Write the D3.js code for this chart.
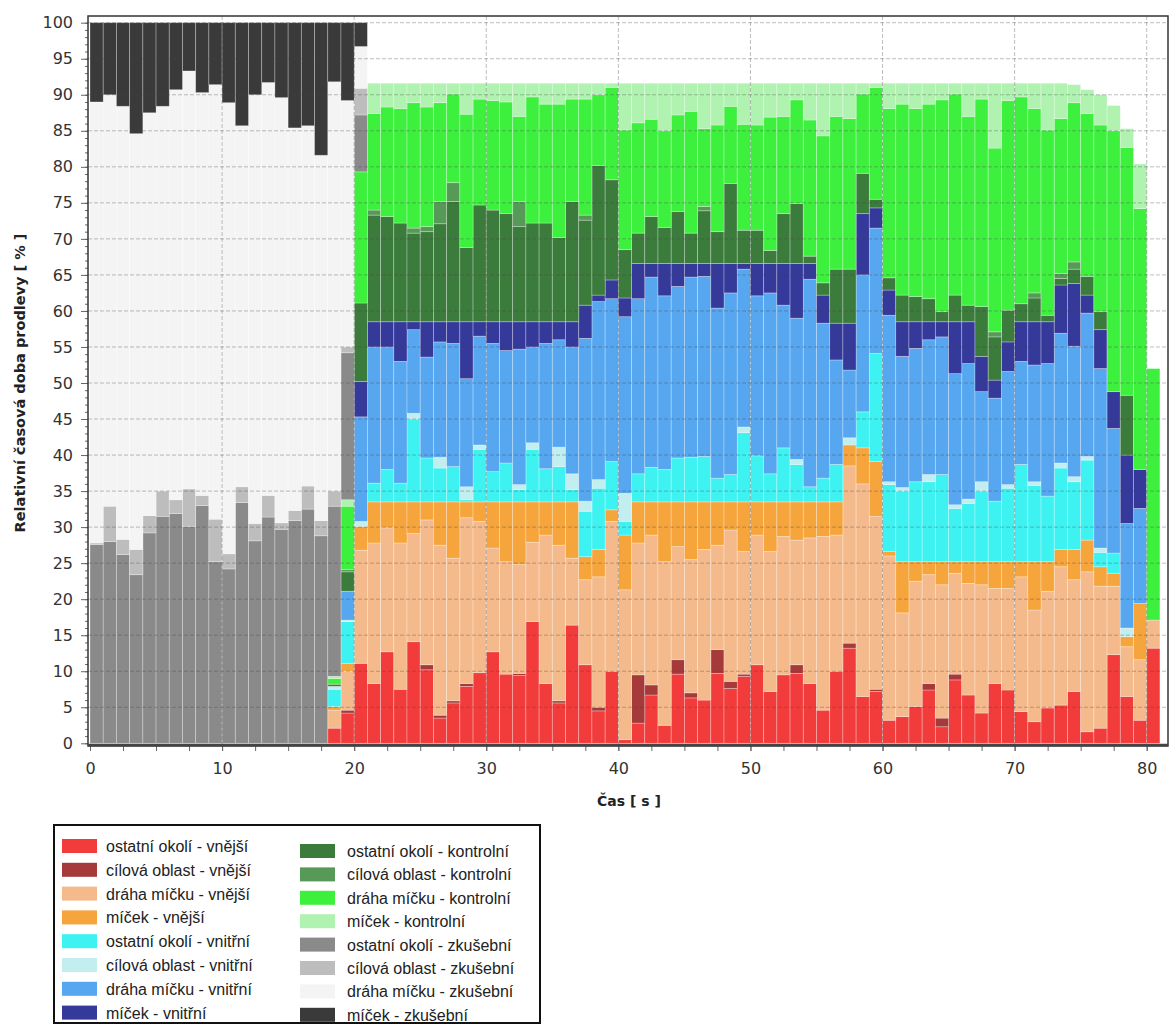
<!DOCTYPE html>
<html>
<head>
<meta charset="utf-8">
<script src="https://cdn.jsdelivr.net/npm/d3@7"></script>
<style>
  html, body { margin: 0; padding: 0; background: #fff; }
  svg { display: block; }
</style>
</head>
<body>
<div id="chart"></div>
<script>
// time bins (start of each 1 s bin)
const timeBins = [0,1,2,3,4,5,6,7,8,9,10,11,12,13,14,15,16,17,18,19,20,21,22,23,24,25,26,27,28,29,
  30,31,32,33,34,35,36,37,38,39,40,41,42,43,44,45,46,47,48,49,50,51,52,53,54,55,56,57,58,59,
  60,61,62,63,64,65,66,67,68,69,70,71,72,73,74,75,76,77,78,79,80];

const xTicks = [0, 10, 20, 30, 40, 50, 60, 70, 80];
const yTicks = [0, 5, 10, 15, 20, 25, 30, 35, 40, 45, 50, 55, 60, 65, 70, 75, 80, 85, 90, 95, 100];

// series values, % of time in each bin (stack order bottom -> top)
const ostatniVnejsi = [0,0,0,0,0,0,0,0,0,0, 0,0,0,0,0,0,0,0,2.1,4.2,
  11.1,8.3,12.7,7.5,14.1,10.2,3.5,5.6,7.9,9.8, 12.7,9.6,9.4,16.9,8.3,5.6,16.4,10.9,4.5,10.0,
  0.5,2.8,6.7,2.5,9.6,6.3,6.0,9.7,7.6,9.3, 10.9,7.2,9.5,9.7,8.3,4.6,10.0,13.2,6.5,7.2,
  3.2,3.7,5.1,7.4,2.3,8.8,6.7,4.2,8.3,7.4, 4.4,3.0,4.9,5.3,7.2,1.6,2.1,12.3,6.5,3.2, 13.2];
const cilovaVnejsi = [0,0,0,0,0,0,0,0,0,0, 0,0,0,0,0,0,0,0,0,0.4,
  0,0,0,0,0,0.7,0.4,0.3,0.4,0, 0,0,0.3,0,0,0.3,0,0,0.5,0,
  0,6.7,1.4,0,2.0,0.7,0,3.3,1.0,0.3, 0,0,0,1.2,0,0,0,0.7,0,0.3,
  0,0,0,0.9,1.2,0.8,0,0,0,0, 0,0,0,0,0,0,0,0,0,0, 0];
const drahaVnejsi = [0,0,0,0,0,0,0,0,0,0, 0,0,0,0,0,0,0,0,2.5,5.4,
  15.7,19.5,17.2,20.3,15.0,20.1,23.6,19.8,23.0,21.0, 14.4,15.6,15.1,11.0,20.6,21.6,9.3,11.8,18.1,20.8,
  20.8,18.3,20.8,22.7,15.7,18.5,20.9,14.5,21.0,17.0, 18.0,19.4,19.2,17.3,20.2,24.1,18.9,24.6,29.5,24.0,
  22.8,14.4,17.4,15.1,18.5,14.0,15.5,17.8,13.2,14.1, 18.7,15.5,16.2,19.2,15.5,22.2,19.7,9.5,6.9,8.4, 3.9];
const micekVnejsi = [0,0,0,0,0,0,0,0,0,0, 0,0,0,0,0,0,0,0,0.5,1.1,
  3.3,5.7,3.6,5.7,4.4,2.5,6.0,7.8,2.2,2.7, 6.4,8.3,8.7,5.6,4.6,6.0,7.8,3.2,3.8,1.6,
  7.6,5.7,4.6,8.3,6.2,8.0,6.6,6.0,3.9,6.9, 4.6,6.9,4.8,5.3,5.0,4.8,4.6,2.9,5.0,7.6,
  0.6,7.1,2.7,1.8,3.2,1.6,3.0,3.2,3.7,3.7, 2.1,6.7,4.1,2.4,4.2,4.4,2.7,1.8,1.4,7.8, 0];
const ostatniVnitrni = [0,0,0,0,0,0,0,0,0,0, 0,0,0,0,0,0,0,0,2.4,5.8,
  0,2.6,4.5,2.6,11.5,6.1,4.7,4.9,0.3,7.3, 4.2,5.4,1.7,7.3,4.6,4.9,1.7,6.3,8.5,6.7,
  1.9,3.9,4.8,4.5,6.1,6.2,6.3,3.3,3.8,9.6, 6.4,3.9,7.5,5.2,2.1,3.3,5.2,0,5.0,15.0,
  9.3,9.8,11.1,11.1,12.1,7.4,8.1,9.8,8.4,10.2, 13.5,10.6,9.1,11.3,9.4,11.1,2.0,2.8,0,0, 0];
const cilovaVnitrni = [0,0,0,0,0,0,0,0,0,0, 0,0,0,0,0,0,0,0,0.4,0.2,
  0.7,0,0,0,0.8,0,1.5,0,1.8,0.6, 0,0,0.7,0.9,0,2.7,2.2,1.4,1.2,0,
  3.9,0,0,0,0,0,0,0,0,0.8, 0,0,0,0.7,0,0,0,1.0,0,0,
  0.4,0.5,0,1.0,0,0.5,0.6,1.3,0,0.5, 0,0.5,0,0.7,0.7,0.5,0.6,0,1.2,0, 0];
const drahaVnitrni = [0,0,0,0,0,0,0,0,0,0, 0,0,0,0,0,0,0,0,0,4.0,
  14.5,18.9,17.0,16.9,11.6,14.0,16.0,17.1,15.0,15.1, 17.8,15.6,18.8,13.3,17.4,14.9,17.6,22.6,24.7,22.6,
  24.5,24.3,26.4,24.1,23.8,25.0,25.0,23.6,25.2,21.9, 22.2,25.1,19.8,19.6,28.8,21.5,14.5,9.4,19.0,17.4,
  23.1,18.2,18.5,18.7,19.1,18.2,18.8,12.5,14.3,15.7, 14.3,16.2,18.4,18.0,18.1,19.9,24.9,17.3,14.5,13.2, 0];
const micekVnitrni = [0,0,0,0,0,0,0,0,0,0, 0,0,0,0,0,0,0,0,0,0,
  4.9,3.5,3.5,5.5,1.1,4.9,2.8,3.0,7.9,2.0, 3.0,4.0,3.8,3.5,3.0,2.5,3.5,4.6,0.9,2.6,
  2.6,4.9,1.9,4.5,3.2,1.9,1.8,6.2,4.1,0.8, 4.5,4.1,5.8,7.6,2.2,3.9,5.1,6.5,8.5,2.8,
  3.5,4.8,3.7,2.5,2.1,7.2,5.8,4.9,2.5,4.1, 5.5,6.0,5.8,6.7,8.7,2.5,5.4,5.1,9.5,5.4, 0];
const ostatniKontrolni = [0,0,0,0,0,0,0,0,0,0, 0,0,0,0,0,0,0,0,0.3,2.7,
  10.9,14.8,14.6,13.7,12.3,12.5,13.6,16.7,10.3,16.2, 15.5,15.0,13.2,13.7,13.7,11.7,16.7,11.8,18.0,13.9,
  6.7,4.2,6.5,5.0,7.2,4.2,7.3,4.4,11.1,4.6, 4.6,1.8,6.9,8.3,1.0,1.7,7.5,7.5,5.6,1.2,
  1.7,3.7,3.5,3.2,1.4,3.7,2.3,6.9,6.0,4.4, 2.5,3.3,0.9,0.9,2.0,2.6,2.5,0,8.3,0, 0];
const cilovaKontrolni = [0,0,0,0,0,0,0,0,0,0, 0,0,0,0,0,0,0,0,0,0.3,
  0,0.7,0,0,0.7,0.7,3.1,2.6,0,0, 0,0,3.5,0,0,0,0,0.7,0,0,
  0,0,0,0,0,0,0.6,0,0,0, 0,0,0,0,0,0,0,0,0,0,
  0,0,0,0,0,0,0,0,0.7,0, 0,0.7,0,0.7,1.0,0,0,0,0,0, 0];
const drahaKontrolni = [0,0,0,0,0,0,0,0,0,0, 0,0,0,0,0,0,0,0,0.8,8.8,
  18.2,13.4,15.2,15.9,17.4,16.6,13.7,12.3,18.5,14.7, 15.2,15.5,11.8,17.5,16.5,18.5,14.2,16.1,9.8,12.8,
  16.6,15.3,13.5,13.4,13.4,16.9,10.8,14.8,10.7,14.7, 14.6,18.5,13.5,14.4,18.9,20.4,21.2,20.9,11.0,15.5,
  23.5,26.5,26.1,27.0,29.4,27.9,26.2,28.8,25.5,29.1, 28.7,25.6,25.7,21.5,22.1,22.6,25.9,36.2,34.4,36.2, 34.9];
const micekKontrolni = [0,0,0,0,0,0,0,0,0,0, 0,0,0,0,0,0,0,0,0.3,0.9,
  0,4.2,3.3,3.5,2.7,3.3,2.7,1.5,4.3,2.2, 2.4,2.6,4.6,1.9,2.9,2.9,2.2,2.2,1.6,0.6,
  6.5,5.5,5.0,6.6,4.4,3.9,6.3,5.8,3.2,5.7, 5.8,4.7,4.6,2.3,5.1,7.3,4.6,4.9,1.5,0.6,
  3.5,2.9,3.5,2.9,2.3,1.5,4.6,2.2,9.0,2.4, 1.9,3.5,6.5,4.9,2.5,3.3,4.2,3.5,2.6,6.2, 0];
const ostatniZkusebni = [27.6,28.0,26.2,23.4,29.2,31.5,31.9,30.1,33.0,25.2,
  24.2,33.4,28.1,31.4,29.7,30.9,32.5,28.8,23.6,20.4,
  7.9,0,0,0,0,0,0,0,0,0, 0,0,0,0,0,0,0,0,0,0, 0,0,0,0,0,0,0,0,0,0,
  0,0,0,0,0,0,0,0,0,0, 0,0,0,0,0,0,0,0,0,0, 0,0,0,0,0,0,0,0,0,0, 0];
const cilovaZkusebni = [0.2,4.9,2.1,3.5,2.4,3.5,1.9,5.2,1.4,5.9,
  2.1,2.2,2.4,3.0,0.9,1.4,3.2,2.1,2.1,0.8,
  3.7,0,0,0,0,0,0,0,0,0, 0,0,0,0,0,0,0,0,0,0, 0,0,0,0,0,0,0,0,0,0,
  0,0,0,0,0,0,0,0,0,0, 0,0,0,0,0,0,0,0,0,0, 0,0,0,0,0,0,0,0,0,0, 0];
const drahaZkusebni = [61.2,57.1,60.1,57.7,55.9,53.4,56.9,58.0,55.9,60.3,
  62.6,50.1,59.5,57.3,59.0,53.1,50.0,50.7,56.8,34.2,
  5.8,0,0,0,0,0,0,0,0,0, 0,0,0,0,0,0,0,0,0,0, 0,0,0,0,0,0,0,0,0,0,
  0,0,0,0,0,0,0,0,0,0, 0,0,0,0,0,0,0,0,0,0, 0,0,0,0,0,0,0,0,0,0, 0];
const micekZkusebni = [11.0,10.0,11.6,15.4,12.5,11.6,9.3,6.7,9.7,8.6,
  11.1,14.3,10.0,8.3,10.4,14.6,14.3,18.4,8.2,10.8,
  3.3,0,0,0,0,0,0,0,0,0, 0,0,0,0,0,0,0,0,0,0, 0,0,0,0,0,0,0,0,0,0,
  0,0,0,0,0,0,0,0,0,0, 0,0,0,0,0,0,0,0,0,0, 0,0,0,0,0,0,0,0,0,0, 0];

const seriesNames = [
  "ostatní okolí - vnější", "cílová oblast - vnější", "dráha míčku - vnější", "míček - vnější",
  "ostatní okolí - vnitřní", "cílová oblast - vnitřní", "dráha míčku - vnitřní", "míček - vnitřní",
  "ostatní okolí - kontrolní", "cílová oblast - kontrolní", "dráha míčku - kontrolní", "míček - kontrolní",
  "ostatní okolí - zkušební", "cílová oblast - zkušební", "dráha míčku - zkušební", "míček - zkušební"
];
const seriesValues = [
  ostatniVnejsi, cilovaVnejsi, drahaVnejsi, micekVnejsi,
  ostatniVnitrni, cilovaVnitrni, drahaVnitrni, micekVnitrni,
  ostatniKontrolni, cilovaKontrolni, drahaKontrolni, micekKontrolni,
  ostatniZkusebni, cilovaZkusebni, drahaZkusebni, micekZkusebni
];
const seriesColors = [
  "#f23b3b", "#a63a3a", "#f4ba8c", "#f6a43c",
  "#3ef2f2", "#c2eef0", "#56a6f0", "#34399a",
  "#3b7b3b", "#579a57", "#3ef03e", "#b0f2b0",
  "#8a8a8a", "#bdbdbd", "#f4f4f4", "#3a3a3a"
];

const width = 1173, height = 1026;
const margin = { top: 16, right: 5, bottom: 280, left: 88 };
const plotRight = width - margin.right;
const plotBottom = height - margin.bottom;

const svg = d3.select("#chart").append("svg")
    .attr("width", width)
    .attr("height", height)
    .style("font-family", "'DejaVu Sans', sans-serif");

// scales: 0 s sits 2px right of the frame, 100 % sits 7px under it
const x = d3.scaleLinear().domain([0, 80]).range([90, 1146.7]);
const y = d3.scaleLinear().domain([0, 100]).range([743.3, 22.7]);

// table for the stack
const table = timeBins.map((t, i) => {
    const row = { t };
    seriesNames.forEach((name, k) => { row[name] = seriesValues[k][i]; });
    return row;
});
const stacked = d3.stack().keys(seriesNames)(table);
const color = d3.scaleOrdinal().domain(seriesNames).range(seriesColors);

svg.append("clipPath").attr("id", "plot-clip")
  .append("rect")
    .attr("x", margin.left).attr("y", margin.top)
    .attr("width", plotRight - margin.left).attr("height", plotBottom - margin.top);

const plot = svg.append("g").attr("clip-path", "url(#plot-clip)");

// Bars
plot.selectAll("g.layer")
    .data(stacked)
    .join("g")
    .attr("class", "layer")
    .attr("fill", d => color(d.key))
    .selectAll("rect")
    .data(d => d.filter(s => s[1] - s[0] > 0))
    .join("rect")
    .attr("x", d => x(d.data.t))
    .attr("y", d => y(d[1]))
    .attr("width", d => x(d.data.t + 1) - x(d.data.t))
    .attr("height", d => y(d[0]) - y(d[1]))
    .attr("stroke", "#ffffff")
    .attr("stroke-opacity", 0.35)
    .attr("stroke-width", 0.8);

// Grid lines (drawn over the bars, like the original)
plot.append("g")
    .selectAll("line")
    .data(yTicks.filter(v => v > 0))
    .join("line")
    .attr("x1", margin.left).attr("x2", plotRight)
    .attr("y1", d => y(d)).attr("y2", d => y(d))
    .attr("stroke", "#444").attr("stroke-opacity", 0.35)
    .attr("stroke-dasharray", "4,2");

plot.append("g")
    .selectAll("line")
    .data(xTicks.filter(v => v > 0))
    .join("line")
    .attr("x1", d => x(d)).attr("x2", d => x(d))
    .attr("y1", margin.top).attr("y2", plotBottom)
    .attr("stroke", "#444").attr("stroke-opacity", 0.35)
    .attr("stroke-dasharray", "4,2");

// Y axis
svg.append("g")
    .attr("transform", `translate(${margin.left},0)`)
    .call(d3.axisLeft(y).tickValues(d3.range(0, 101, 1)).tickSize(3).tickFormat(""))
    .call(g => g.select(".domain").remove())
    .selectAll("line").attr("stroke", "#666");

svg.append("g")
    .attr("transform", `translate(${margin.left},0)`)
    .call(d3.axisLeft(y).tickValues(yTicks).tickSize(7).tickPadding(8))
    .call(g => g.select(".domain").remove())
    .call(g => g.selectAll("line").attr("stroke", "#666"))
    .selectAll("text")
    .style("font-size", "16px")
    .style("font-family", "'DejaVu Sans', sans-serif")
    .attr("fill", "#333");

// X axis
svg.append("g")
    .attr("transform", `translate(0,${plotBottom})`)
    .call(d3.axisBottom(x).tickValues(d3.range(0, 81, 2.5)).tickSize(5).tickFormat(""))
    .call(g => g.select(".domain").remove())
    .selectAll("line").attr("stroke", "#666");

svg.append("g")
    .attr("transform", `translate(0,${plotBottom})`)
    .call(d3.axisBottom(x).tickValues(xTicks).tickSize(5).tickPadding(12))
    .call(g => g.select(".domain").remove())
    .call(g => g.selectAll("line").attr("stroke", "#666"))
    .selectAll("text")
    .style("font-size", "16px")
    .style("font-family", "'DejaVu Sans', sans-serif")
    .attr("fill", "#333");

// Frame
svg.append("rect")
    .attr("x", margin.left).attr("y", margin.top)
    .attr("width", plotRight - margin.left).attr("height", plotBottom - margin.top)
    .attr("fill", "none").attr("stroke", "#333").attr("stroke-width", 1.5);
svg.append("line")
    .attr("x1", margin.left).attr("x2", plotRight)
    .attr("y1", plotBottom - 1).attr("y2", plotBottom - 1)
    .attr("stroke", "#444").attr("stroke-width", 2.5);

// Axis titles
svg.append("text")
    .attr("x", 629).attr("y", 806)
    .attr("text-anchor", "middle")
    .style("font-size", "14px")
    .style("font-weight", "bold")
    .attr("fill", "#222")
    .text("Čas [ s ]");

svg.append("text")
    .attr("transform", "translate(25,383) rotate(-90)")
    .attr("text-anchor", "middle")
    .style("font-size", "14.5px")
    .style("font-weight", "bold")
    .attr("fill", "#222")
    .text("Relativní časová doba prodlevy [ % ]");

// Legend
const legend = svg.append("g").style("font-family", "'Liberation Sans', sans-serif");
legend.append("rect")
    .attr("x", 54).attr("y", 825).attr("width", 486).attr("height", 198)
    .attr("fill", "#fff").attr("stroke", "#111").attr("stroke-width", 2);

const legendItems = legend.selectAll("g.item")
    .data(seriesNames)
    .join("g")
    .attr("class", "item")
    .attr("transform", (d, i) => i < 8
        ? `translate(62,${846 + i * 23.8})`
        : `translate(300,${851 + (i - 8) * 23.4})`);

legendItems.append("rect")
    .attr("x", 0).attr("y", -7)
    .attr("width", 35).attr("height", 14)
    .attr("fill", d => color(d));

legendItems.append("text")
    .attr("x", (d, i) => i < 8 ? 44 : 47)
    .attr("y", 6)
    .style("font-size", "16px")
    .attr("fill", "#222")
    .text(d => d);
</script>
</body>
</html>
